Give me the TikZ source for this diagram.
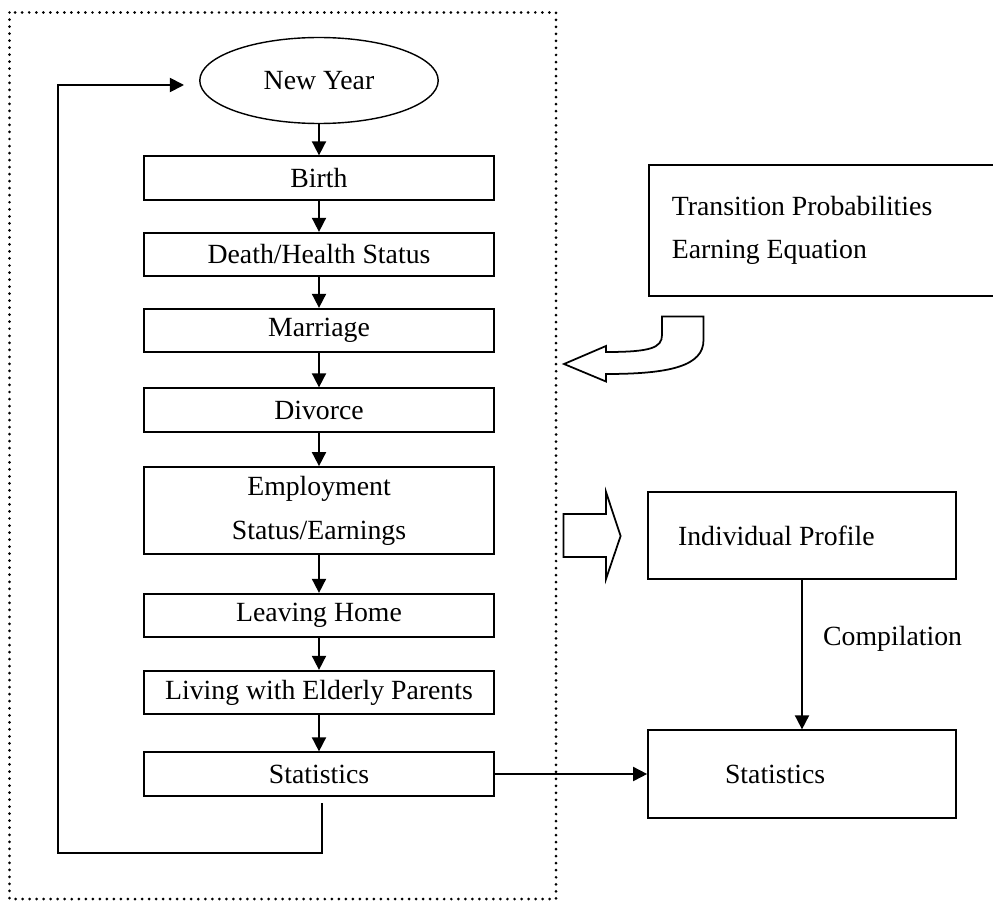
\documentclass[tikz,border=0pt]{standalone}
\usepackage{fontspec}
\setmainfont{Liberation Serif}
\usetikzlibrary{shapes.geometric}
\usetikzlibrary{arrows.meta}
\newcommand{\flowfont}{\fontsize{15.8}{25}\selectfont}
\tikzset{stepbox/.style={rectangle, draw, line width=1pt, minimum width=7cm, minimum height=0.87cm, inner sep=0pt, font=\flowfont, align=center}}
\tikzset{sidebox/.style={rectangle, draw, line width=1pt, inner ysep=0pt, align=flush left, font=\flowfont}}
\tikzset{flow/.style={line width=1pt, -{Triangle[length=8pt,width=8pt]}}}
\tikzset{fatarrow/.style={draw, line width=1pt, fill=white}}

\begin{document}
\begin{tikzpicture}[x=0.02cm, y=-0.02cm]
\useasboundingbox (0,0) rectangle (993,902);

\draw[line width=1.7pt, line cap=round, dash pattern=on 0pt off 4pt] (9.5,12.5) rectangle (556,899);

\node[ellipse, draw, line width=0.8pt, minimum width=4.77cm, minimum height=1.72cm, inner sep=0pt, font=\flowfont] (0) at (319,80.5) {New Year};
\node[stepbox] (1) at (319,178) {Birth};
\node[stepbox] (2) at (319,254.5) {Death/Health Status};
\node[stepbox] (3) at (319,330.5) {Marriage};
\node[stepbox] (4) at (319,410) {Divorce};
\node[stepbox, minimum height=1.74cm] (5) at (319,510.5) {Employment\\Status/Earnings};
\node[stepbox] (6) at (319,615.5) {Leaving Home};
\node[stepbox] (7) at (319,692.5) {Living with Elderly Parents};
\node[stepbox] (8) at (319,774) {Statistics};

\foreach \a/\b in {0/1,1/2,2/3,3/4,4/5,5/6,6/7,7/8} \draw[flow] (\a) -- (\b);

% back to the top
\coordinate (9) at (322,803);
\coordinate (10) at (184,85);
\draw[flow] (9) |- (58,853) |- (10);

\node[sidebox, anchor=north west, minimum height=2.62cm, inner xsep=0.46cm, text width=6.12cm] (11) at (648,164) {Transition Probabilities\\Earning Equation};
\node[sidebox, minimum height=1.74cm, inner xsep=0.6cm, text width=4.96cm] (12) at (802,535.5) {Individual Profile};
\node[sidebox, minimum height=1.75cm, inner xsep=1.54cm, text width=3.08cm] (13) at (802,774) {Statistics};

\draw[flow] (12) -- (13);
\node[anchor=west, font=\flowfont] (14) at (817,638.7) {Compilation};
\draw[flow] (8) -- (13);

\draw[fatarrow] (564,364) -- (606,346) -- (606,352) .. controls (650,352) and (662,348) .. (662,335) -- (662,316.5) -- (703.5,316.5) -- (703.5,340) .. controls (703.5,366) and (670,374) .. (606,374) -- (606,381.5) -- cycle;
\draw[fatarrow] (563.6,514) -- (606,514) -- (606,492) -- (620.6,536) -- (606,579) -- (606,557) -- (563.6,557) -- cycle;
\end{tikzpicture}
\end{document}
